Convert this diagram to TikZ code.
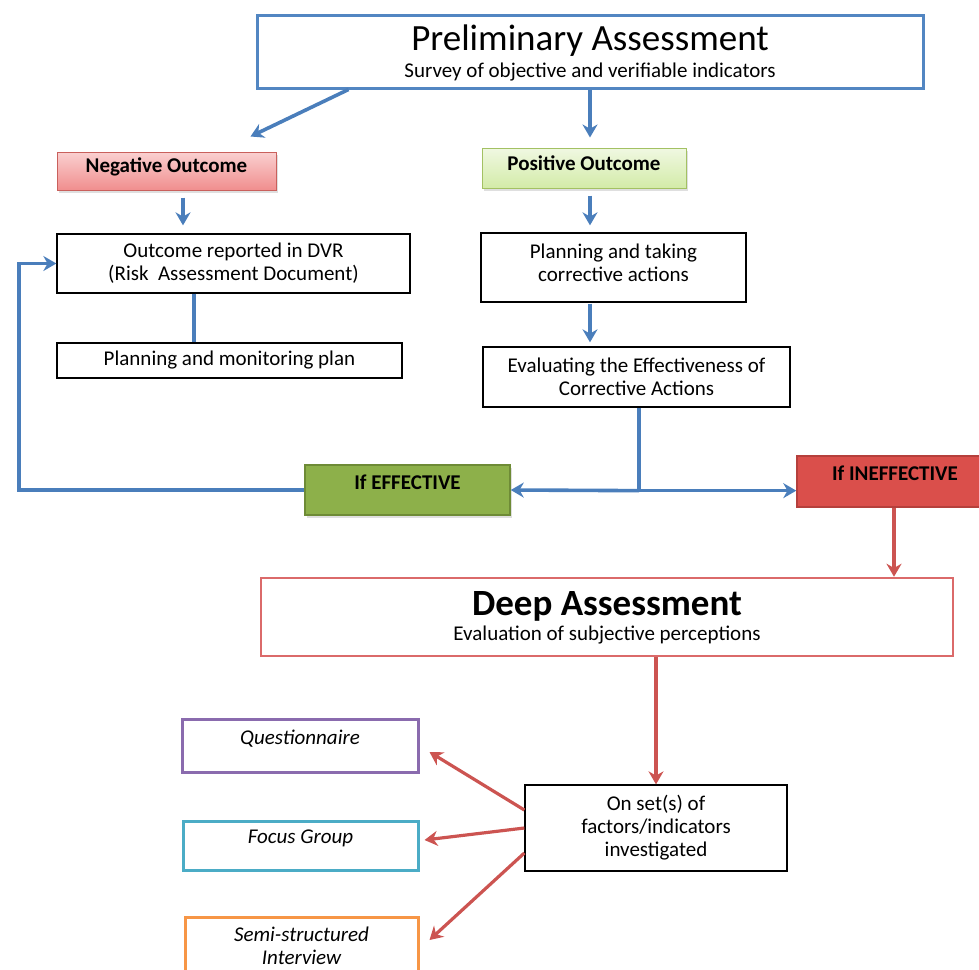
\documentclass[tikz,border=0pt]{standalone}
\usepackage{fontspec}
\setmainfont{Carlito}
\usetikzlibrary{arrows.meta}
\usetikzlibrary{calc}
\usetikzlibrary{shadows}
\definecolor{lineblue}{HTML}{4A7EBB}
\definecolor{prelimblue}{HTML}{5286C2}
\definecolor{negred}{HTML}{C9605C}
\definecolor{negtop}{HTML}{FAD0D0}
\definecolor{negbot}{HTML}{F08E8E}
\definecolor{posgreen}{HTML}{A3C163}
\definecolor{postop}{HTML}{F0F8E2}
\definecolor{posbot}{HTML}{D3EBA8}
\definecolor{efffill}{HTML}{8DB04A}
\definecolor{effdraw}{HTML}{6E8B36}
\definecolor{ineffill}{HTML}{DA4F4B}
\definecolor{ineffdraw}{HTML}{B5403C}
\definecolor{deepred}{HTML}{DB6A6A}
\definecolor{arrowred}{HTML}{CC5451}
\definecolor{questpurple}{HTML}{8A6BAE}
\definecolor{focuscyan}{HTML}{4BACC6}
\definecolor{semiorange}{HTML}{F79646}
\newcommand{\bodyfont}{\fontsize{21}{23}\selectfont}
\newcommand{\bigfont}{\fontsize{37}{37}\selectfont}

\begin{document}
\begin{tikzpicture}[x=1pt, y=-1pt,
	box/.style={draw, line width=1.3pt, align=center, inner sep=0pt, font=\bodyfont},
	boxsize/.style 2 args={minimum width=#1, minimum height=#2},
	lifted/.style={text depth=#1},
	shade/.style={drop shadow={opacity=0.25, shadow xshift=2pt, shadow yshift=-3pt}},
	blueline/.style={draw=lineblue, line width=3.6pt},
	bluearrow/.style={blueline, -{Stealth[length=13pt, width=15pt]}},
	redarrow/.style={draw=arrowred, line width=3.2pt, -{Stealth[length=13pt, width=15pt]}}]
	% picture is 979 x 969, coordinates in pixels from the top left
	\useasboundingbox (0,0) rectangle (979,969);
	% preliminary assessment
	\node[box, draw=prelimblue, line width=3pt, boxsize={666pt}{73pt}, lifted=0pt] (prelim) at (590,51.5)
		{{\bigfont Preliminary Assessment}\\[4pt]Survey of objective and verifiable indicators};
	% outcomes
	\node[box, shade, draw=negred, line width=1pt, top color=negtop, bottom color=negbot,
		boxsize={219pt}{38pt}, font=\bodyfont\bfseries, lifted=12pt] (neg) at (166.5,171) {Negative Outcome};
	\node[box, shade, draw=posgreen, line width=1pt, top color=postop, bottom color=posbot,
		boxsize={204pt}{40pt}, font=\bodyfont\bfseries, lifted=10pt] (pos) at (584,168) {Positive Outcome};
	% negative branch
	\node[box, boxsize={353pt}{59pt}] (dvr) at (233.5,263.5) {Outcome reported in DVR\\(Risk\ \ Assessment Document)};
	\node[box, boxsize={345pt}{35pt}] (monitor) at (229.5,360.5) {Planning and monitoring plan};
	% positive branch
	\node[box, boxsize={265pt}{69pt}, lifted=10pt] (plantake) at (613.5,267.5) {Planning and taking\\corrective actions};
	\node[box, boxsize={307pt}{60pt}] (eval) at (636.5,377) {Evaluating the Effectiveness of\\Corrective Actions};
	% effective / ineffective
	\node[box, shade, fill=efffill, draw=effdraw, line width=1.5pt, boxsize={205pt}{50pt},
		font=\bodyfont\bfseries, lifted=16pt] (eff) at (407.5,490) {If EFFECTIVE};
	\node[box, fill=ineffill, draw=ineffdraw, line width=1.5pt, boxsize={196pt}{51pt},
		font=\bodyfont\bfseries, lifted=17pt] (ineff) at (895,481.5) {If INEFFECTIVE};
	\coordinate (split) at ($(eval.south)+(2.5,83)$);
	% deep assessment
	\node[box, draw=deepred, line width=2.5pt, boxsize={692pt}{78pt}, lifted=3pt] (deep) at (607,617)
		{{\bigfont\bfseries Deep Assessment}\\[2pt]Evaluation of subjective perceptions};
	\node[box, boxsize={262pt}{86pt}] (onset) at (656,828) {On set(s) of\\factors/indicators\\investigated};
	% methods
	\node[box, draw=questpurple, line width=3pt, boxsize={236pt}{53pt},
		font=\bodyfont\itshape, lifted=17pt] (quest) at (300,745.5) {Questionnaire};
	\node[box, draw=focuscyan, line width=3pt, boxsize={235pt}{49pt},
		font=\bodyfont\itshape, lifted=17.5pt] (focus) at (300.5,845.5) {Focus Group};
	\node[box, draw=semiorange, line width=3pt, boxsize={233pt}{58pt},
		font=\bodyfont\itshape] (semi) at (301.5,946) {Semi-structured\\Interview};
	% blue connectors
	\draw[bluearrow] ($(prelim.south west)+(93,0)$) -- ($(neg.north east)+(-26,-15)$);
	\draw[bluearrow] (prelim.south) -- ($(pos.north)+(6,-10)$);
	\draw[bluearrow] ($(neg.south)+(16.5,7)$) -- ($(dvr.north)+(-50.5,-8)$);
	\draw[bluearrow] ($(pos.south)+(6,7)$) -- ($(plantake.north)+(-23.5,-7)$);
	\draw[blueline] ($(dvr.south)+(-39.5,0)$) -- ($(monitor.north)+(-35.5,0)$);
	\draw[bluearrow] ($(plantake.south)+(-23.5,1)$) -- ($(eval.north)+(-46.5,-4)$);
	\draw[blueline] (split |- eval.south) -- (split);
	\draw[bluearrow] (split) -- (eff.east);
	\draw[bluearrow] (split) -- (split -| ineff.west);
	\draw[bluearrow] (eff.west) -- ++(-285,0) |- (dvr.west);
	% red connectors
	\draw[redarrow] ($(ineff.south)+(-1,0)$) -- (deep.north -| 894,0);
	\draw[redarrow] (deep.south -| onset.north) -- (onset.north);
	\draw[redarrow] ($(onset.west)+(0,-18)$) -- ($(quest.east)+(10,6.5)$);
	\draw[redarrow] (onset.west) -- ($(focus.east)+(5,-5.5)$);
	\draw[redarrow] ($(onset.west)+(0,25)$) -- ($(semi.east)+(10,-6)$);
\end{tikzpicture}
\end{document}
